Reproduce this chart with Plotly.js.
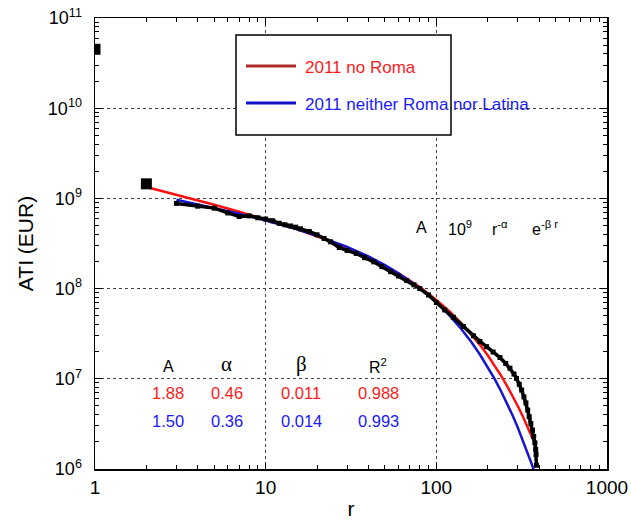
<!DOCTYPE html>
<html>
<head>
<meta charset="utf-8">
<script src="https://cdn.plot.ly/plotly-3.0.1.min.js"></script>
<style>html,body{margin:0;padding:0;background:#fff;}#chart{width:631px;height:521px;}</style>
</head>
<body>
<div id="chart"></div>
<script>
// Ranked data (black squares)
var topRanks = [1, 2];
var topValues = [4.5e10, 1.45e9];
var dataRanks = [3,4,5,6,7,8,9,10,11,12,13,14,15,16,18,20,22,24,27,30,34,38,43,48,54,60,67,74,80,90,100,112,126,144,165,180,197,215,236,255,270,285,295,306,316,326,335,343,350,358,366,372,378,382,384,386];
var dataValues = [8.8e8,8.2e8,7.8e8,6.9e8,6.3e8,6.4e8,6.1e8,5.9e8,5.65e8,5.3e8,5.1e8,4.95e8,4.8e8,4.6e8,4.3e8,3.95e8,3.6e8,3.3e8,2.85e8,2.65e8,2.45e8,2.2e8,1.98e8,1.75e8,1.54e8,1.38e8,1.23e8,1.1e8,1.0e8,8.5e7,7.0e7,5.8e7,4.8e7,3.8e7,3.0e7,2.6e7,2.27e7,1.98e7,1.72e7,1.48e7,1.31e7,1.13e7,1.01e7,8.7e6,7.5e6,6.3e6,5.4e6,4.5e6,3.8e6,3.2e6,2.7e6,2.3e6,1.95e6,1.65e6,1.45e6,1.1e6];

// 2011 no Roma (red curve)
var redRanks = [2,3,5,7,10,15,20,30,40,50,60,70,80,100,120,140,160,180,200,220,240,260,280,300,320,340,360,376];
var redValues = [1.34e9,1.10e9,8.5e8,7.1e8,5.84e8,4.59e8,3.80e8,2.83e8,2.22e8,1.79e8,1.48e8,1.23e8,1.04e8,7.5e7,5.55e7,4.15e7,3.13e7,2.38e7,1.82e7,1.40e7,1.08e7,8.3e6,6.5e6,5.0e6,3.9e6,3.06e6,2.39e6,1.96e6];

// 2011 neither Roma nor Latina (blue curve)
var blueRanks = [3,5,7,10,15,20,30,40,50,60,70,80,100,120,140,160,180,200,220,240,260,280,300,320,340,360,372];
var blueValues = [9.68e8,7.83e8,6.75e8,5.69e8,4.59e8,3.86e8,2.90e8,2.27e8,1.82e8,1.48e8,1.22e8,1.01e8,7.05e7,4.99e7,3.57e7,2.57e7,1.86e7,1.355e7,9.9e6,7.24e6,5.32e6,3.91e6,2.89e6,2.13e6,1.58e6,1.17e6,9.75e5];

var xTickVals = [1, 10, 100, 1000];
var xTickText = ['1', '10', '100', '1000'];
var xMinorVals = [2,3,4,5,6,7,8,9,20,30,40,50,60,70,80,90,200,300,400,500,600,700,800,900];
var yTickVals = [1e6, 1e7, 1e8, 1e9, 1e10, 1e11];
var yTickText = ['10<sup>6</sup>','10<sup>7</sup>','10<sup>8</sup>','10<sup>9</sup>','10<sup>10</sup>','10<sup>11</sup>'];
var yMinorVals = [];
[1e6,1e7,1e8,1e9,1e10].forEach(function(d){ for (var k=2;k<=9;k++) yMinorVals.push(k*d); });

var legendLabels = ['2011 no Roma', '2011 neither Roma nor Latina'];
var tableHeader = ['A', 'α', 'β', 'R<sup>2</sup>'];
var tableRed = ['1.88', '0.46', '0.011', '0.988'];
var tableBlue = ['1.50', '0.36', '0.014', '0.993'];
var formulaParts = ['A', '10<sup>9</sup>', 'r<sup>-α</sup>', 'e<sup>-β r</sup>'];

var RED = '#ff1010', BLUE = '#1515d0', TXTRED = '#ff1a1a', TXTBLUE = '#1a1aff';

var traces = [
  {x: redRanks, y: redValues, mode: 'lines', line: {color: RED, width: 2.5}, showlegend: false, hoverinfo: 'skip'},
  {x: blueRanks, y: blueValues, mode: 'lines', line: {color: BLUE, width: 2.5}, showlegend: false, hoverinfo: 'skip'},
  {x: dataRanks, y: dataValues, mode: 'lines+markers', line: {color: '#000', width: 3.5},
   marker: {symbol: 'square', size: 5, color: '#000'}, showlegend: false, hoverinfo: 'skip'},
  {x: topRanks, y: topValues, mode: 'markers', marker: {symbol: 'square', size: 11, color: '#000'}, showlegend: false, hoverinfo: 'skip'}
];

function px(x){ return (x-95)/512; }
function py(y){ return (469-y)/451; }

var F = 'Liberation Sans, Arial, Helvetica, sans-serif';
var annotations = [];
var cols = [168, 226.7, 301, 378];
tableHeader.forEach(function(t,i){
  var greek = (i===1||i===2);
  annotations.push({xref:'paper', yref:'paper', x:px(cols[i]), y:py(greek?364:366), text:t, showarrow:false,
    xanchor:'center', yanchor:'middle', font:{family: greek ? 'Liberation Serif, Times New Roman, serif' : F, size: greek?21:16, color:'#000'}});
});
tableRed.forEach(function(t,i){
  annotations.push({xref:'paper', yref:'paper', x:px(cols[i]), y:py(393.5), text:t, showarrow:false,
    xanchor:'center', yanchor:'middle', font:{family:F, size:16.5, color:TXTRED}});
});
tableBlue.forEach(function(t,i){
  annotations.push({xref:'paper', yref:'paper', x:px(cols[i]), y:py(420.5), text:t, showarrow:false,
    xanchor:'center', yanchor:'middle', font:{family:F, size:16.5, color:TXTBLUE}});
});
var fcols = [421, 460, 500, 545];
formulaParts.forEach(function(t,i){
  annotations.push({xref:'paper', yref:'paper', x:px(fcols[i]), y:py(228), text:t, showarrow:false,
    xanchor:'center', yanchor:'middle', font:{family:F, size:16, color:'#000'}});
});
// legend texts
annotations.push({xref:'paper', yref:'paper', x:px(303), y:py(67), text:legendLabels[0], showarrow:false,
  xanchor:'left', yanchor:'middle', font:{family:F, size:17, color:TXTRED}});
annotations.push({xref:'paper', yref:'paper', x:px(303), y:py(104), text:legendLabels[1], showarrow:false,
  xanchor:'left', yanchor:'middle', font:{family:F, size:17, color:TXTBLUE}});

var shapes = [
  {type:'rect', xref:'paper', yref:'paper', x0:px(236), x1:px(451), y0:py(135), y1:py(35),
   line:{color:'#000', width:1.5}, fillcolor:'#fff', layer:'above'},
  {type:'line', xref:'paper', yref:'paper', x0:px(246), x1:px(296), y0:py(66), y1:py(66),
   line:{color:'#b02a2a', width:3}, layer:'above'},
  {type:'line', xref:'paper', yref:'paper', x0:px(246), x1:px(296), y0:py(103), y1:py(103),
   line:{color:'#1212c8', width:3}, layer:'above'}
];

var axisCommon = {
  type:'log', ticks:'inside', ticklen:7, tickwidth:1.2, tickcolor:'#000', mirror:'allticks',
  showline:true, linecolor:'#000', linewidth:1.5, showgrid:true, gridcolor:'#444', griddash:'dot', gridwidth:1,
  zeroline:false, tickfont:{family:F, size:19, color:'#000'}
};

var layout = {
  width:631, height:521,
  margin:{l:95, r:24, t:18, b:52},
  paper_bgcolor:'#fff', plot_bgcolor:'#fff',
  showlegend:false,
  xaxis: Object.assign({}, axisCommon, {
    range:[0,3], tickmode:'array', tickvals:xTickVals, ticktext:xTickText, ticklabelstandoff:1,
    minor:{tickmode:'array', tickvals:xMinorVals, ticks:'inside', ticklen:4, tickcolor:'#000', tickwidth:1, showgrid:false},
    title:{text:'r', font:{family:F, size:21, color:'#000'}, standoff:4}
  }),
  yaxis: Object.assign({}, axisCommon, {
    range:[6,11], tickmode:'array', tickvals:yTickVals, ticktext:yTickText, ticklabelstandoff:8,
    tickfont:{family:F, size:18, color:'#000'},
    minor:{tickmode:'array', tickvals:yMinorVals, ticks:'inside', ticklen:4, tickcolor:'#000', tickwidth:1, showgrid:false},
    title:{text:'ATI (EUR)', font:{family:F, size:21, color:'#000'}, standoff:8}
  }),
  annotations: annotations,
  shapes: shapes
};

Plotly.newPlot('chart', traces, layout, {staticPlot:true, displayModeBar:false});
</script>
</body>
</html>
